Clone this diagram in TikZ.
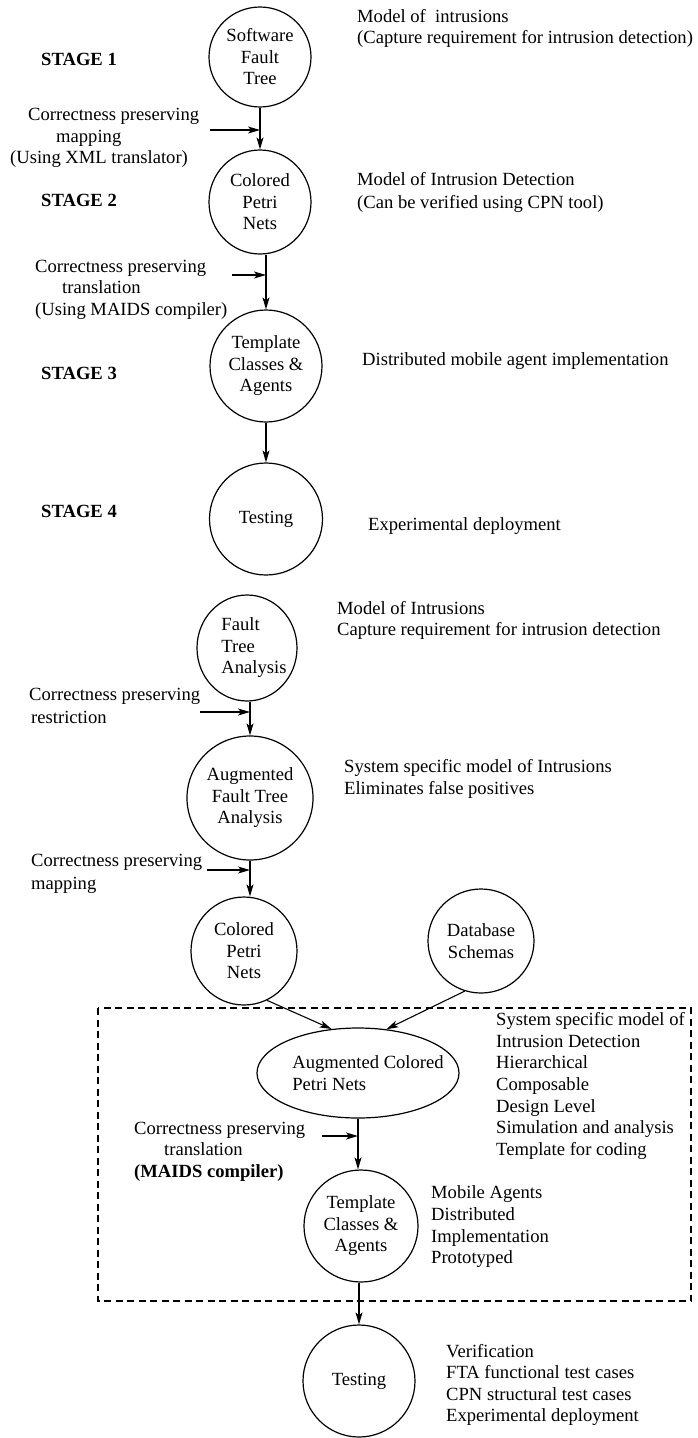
\documentclass[tikz,border=0pt]{standalone}
\usepackage{fontspec}
\setmainfont{Liberation Serif}
\usetikzlibrary{shapes.geometric,arrows.meta}
\tikzset{
  every node/.style={font=\fontsize{18.6pt}{21.5pt}\selectfont},
  proc/.style={draw, ellipse, line width=1.2pt, inner sep=0pt, align=center},
  txt/.style={anchor=west, inner sep=0pt, text height=0.68em, text depth=0.22em},
  stg/.style={txt, font=\fontsize{18.6pt}{21.5pt}\selectfont\bfseries},
  flow/.style={line width=1.1pt, -{Stealth[length=12pt,width=7pt,inset=3pt]}},
  grp/.style={draw, dash pattern=on 7pt off 4.5pt, line width=1.1pt}
}
\begin{document}
\begin{tikzpicture}[x=1pt,y=-1pt]
\useasboundingbox (0,0) rectangle (697,1438);

% ---------- upper diagram ----------
\node[proc, minimum width=102pt, minimum height=100pt] (SFT) at (260,57) {Software\\Fault\\Tree};
\node[proc, minimum width=102pt, minimum height=104pt] (CPN1) at (260,202) {Colored\\Petri\\Nets};
\node[proc, minimum width=112pt, minimum height=112pt] (TCA1) at (266,366) {Template\\Classes \&\\Agents};
\node[proc, minimum width=113pt, minimum height=112pt] (TST1) at (266,519) {Testing};

\node[txt] (m1a) at (357,20) {Model of\ \ intrusions};
\node[txt] (m1b) at (357,41) {(Capture requirement for intrusion detection)};
\node[stg] (s1) at (41,63) {STAGE 1};
\node[txt] (l1a) at (28,118) {Correctness preserving};
\node[txt] (l1b) at (56,140) {mapping};
\node[txt] (l1c) at (10,161) {(Using XML translator)};
\node[txt] (m2a) at (357,183) {Model of Intrusion Detection};
\node[txt] (m2b) at (357,206) {(Can be verified using CPN tool)};
\node[stg] (s2) at (41,204) {STAGE 2};
\node[txt] (l2a) at (35,270) {Correctness preserving};
\node[txt] (l2b) at (62,291) {translation};
\node[txt] (l2c) at (35,313) {(Using MAIDS compiler)};
\node[stg] (s3) at (41,377) {STAGE 3};
\node[txt] (m3) at (362,363) {Distributed mobile agent implementation};
\node[stg] (s4) at (41,515) {STAGE 4};
\node[txt] (m4) at (368,528) {Experimental deployment};

\coordinate (c1) at (210,130);
\coordinate (c2) at (232,275);
\draw[flow] (SFT.south) -- (CPN1.north);
\draw[flow] (c1) -- (c1 -| SFT.south);
\draw[flow] (TCA1.north |- CPN1.south) -- (TCA1.north);
\draw[flow] (c2) -- (c2 -| TCA1.north);
\draw[flow] (TCA1.south) -- (TST1.north);

% ---------- lower diagram ----------
\node[proc, align=left, inner xsep=-10pt, minimum width=100pt, minimum height=106pt] (FTA) at (247,648)
  {\hspace*{14pt}Fault\\\hspace*{14pt}Tree\\\hspace*{14pt}Analysis};
\node[proc, minimum width=126pt, minimum height=124pt] (AFTA) at (250,798) {Augmented\\Fault Tree\\Analysis};
\node[proc, minimum width=106pt, minimum height=108pt] (CPN2) at (244,951) {Colored\\Petri\\Nets};
\node[proc, minimum width=106pt, minimum height=104pt] (DB) at (481,941) {Database\\Schemas};
\node[proc, align=left, inner xsep=-20pt, minimum width=202pt, minimum height=90pt] (ACPN) at (358,1073)
  {\hspace*{20pt}Augmented Colored\\\hspace*{20pt}Petri Nets};
\node[proc, minimum width=114pt, minimum height=112pt] (TCA2) at (361,1226) {Template\\Classes \&\\Agents};
\node[proc, minimum width=112pt, minimum height=112pt] (TST2) at (359,1381) {Testing};

\draw[grp] (98,1008) rectangle (691,1301);

\node[txt] (m5a) at (337,612) {Model of Intrusions};
\node[txt] (m5b) at (337,633) {Capture requirement for intrusion detection};
\node[txt] (l3a) at (29,698) {Correctness preserving};
\node[txt] (l3b) at (31,721) {restriction};
\node[txt] (m6a) at (344,770) {System specific model of Intrusions};
\node[txt] (m6b) at (344,792) {Eliminates false positives};
\node[txt] (l4a) at (31,864) {Correctness preserving};
\node[txt] (l4b) at (31,887) {mapping};

\node[txt] (d1) at (496,1023) {System specific model of};
\node[txt] (d2) at (496,1045) {Intrusion Detection};
\node[txt] (d3) at (496,1066) {Hierarchical};
\node[txt] (d4) at (496,1088) {Composable};
\node[txt] (d5) at (496,1110) {Design Level};
\node[txt] (d6) at (496,1131) {Simulation and analysis};
\node[txt] (d7) at (496,1153) {Template for coding};

\node[txt] (l5a) at (134,1132) {Correctness preserving};
\node[txt] (l5b) at (164,1153) {translation};
\node[stg] (l5c) at (134,1175) {(MAIDS compiler)};

\node[txt] (a1) at (431,1196) {Mobile Agents};
\node[txt] (a2) at (431,1218) {Distributed};
\node[txt] (a3) at (431,1240) {Implementation};
\node[txt] (a4) at (431,1261) {Prototyped};

\node[txt] (v1) at (446,1355) {Verification};
\node[txt] (v2) at (446,1376) {FTA functional test cases};
\node[txt] (v3) at (446,1398) {CPN structural test cases};
\node[txt] (v4) at (446,1419) {Experimental deployment};

\coordinate (c3) at (200,712);
\coordinate (c4) at (207,870);
\coordinate (c5) at (322,1136);
\draw[flow] (AFTA.north |- FTA.south) -- (AFTA.north);
\draw[flow] (c3) -- (c3 -| AFTA.north);
\draw[flow] (AFTA.south) -- (AFTA.south |- CPN2.north);
\draw[flow] (c4) -- (c4 -| AFTA.south);
\draw[flow] (CPN2.-65) -- (ACPN.121);
\draw[flow] (DB.-108) -- (ACPN.57);
\draw[flow] (ACPN.south) -- (ACPN.south |- TCA2.north);
\draw[flow] (c5) -- (c5 -| ACPN.south);
\draw[flow] (TST2.north |- TCA2.south) -- (TST2.north);
\end{tikzpicture}
\end{document}
